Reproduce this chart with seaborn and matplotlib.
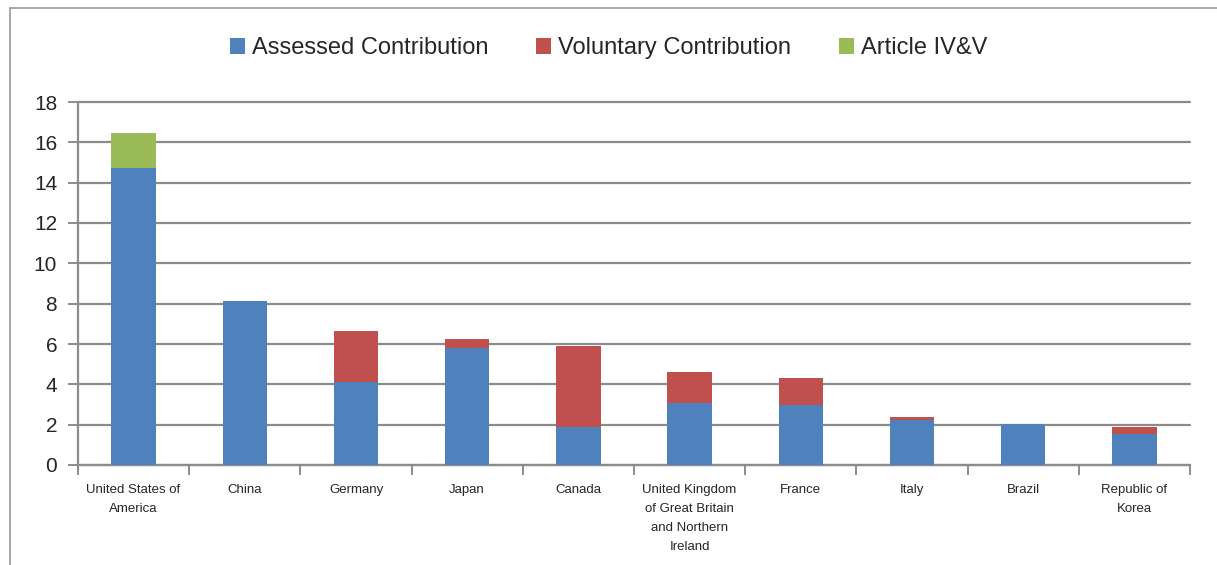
import matplotlib
matplotlib.use("Agg")
import matplotlib.pyplot as plt
from matplotlib.patches import Patch
from matplotlib.lines import Line2D
import seaborn as sns
import pandas as pd
import numpy as np

countries = ["United States of\nAmerica", "China", "Germany", "Japan", "Canada",
             "United Kingdom\nof Great Britain\nand Northern\nIreland", "France",
             "Italy", "Brazil", "Republic of\nKorea"]
assessed = [14.72, 8.12, 4.12, 5.80, 1.87, 3.08, 2.98, 2.24, 2.02, 1.54]
voluntary = [0.0, 0.0, 2.51, 0.46, 4.03, 1.54, 1.32, 0.12, 0.02, 0.33]
article = [1.74, 0.0, 0.0, 0.0, 0.0, 0.0, 0.0, 0.0, 0.0, 0.0]
series_names = ["Assessed Contribution", "Voluntary Contribution", "Article IV&V"]
colors = ["#4F81BD", "#C0504D", "#9BBB59"]

df = pd.DataFrame({"country": countries, "assessed": assessed,
                   "voluntary": voluntary, "article": article})
df["lvl1"] = df["assessed"]
df["lvl2"] = df["assessed"] + df["voluntary"]
df["lvl3"] = df["lvl2"] + df["article"]

sns.set_theme(style="white")
plt.rcParams["font.family"] = ["Liberation Sans", "DejaVu Sans"]

fig = plt.figure(figsize=(12.17, 5.65), dpi=100)
ax = fig.add_axes([78/1217, 1-465/565, (1190-78)/1217, (465-102)/565])

grid_c = "#8C8C8C"
for lvl, c in zip(["lvl3", "lvl2", "lvl1"], colors[::-1]):
    sns.barplot(data=df, x="country", y=lvl, color=c, width=0.4, ax=ax,
                saturation=1, zorder=3, edgecolor="none", linewidth=0)

ax.set_ylim(0, 18)
ax.set_xlim(-0.5, len(countries) - 0.5)
ax.set_yticks(np.arange(0, 19, 2))
ax.yaxis.grid(True, color=grid_c, linewidth=1.6, zorder=0)
for gl in ax.get_ygridlines():
    gl.set_clip_on(False)
ax.set_axisbelow(True)
ax.set_xlabel("")
ax.set_ylabel("")

for s in ["top", "right"]:
    ax.spines[s].set_visible(False)
for s in ["left", "bottom"]:
    ax.spines[s].set_color(grid_c)
    ax.spines[s].set_linewidth(1.6)

ax.tick_params(axis="y", which="major", direction="out", length=7, width=1.4,
               color=grid_c, labelsize=15, pad=8, left=True)
ax.set_xticks(range(len(countries)))
ax.set_xticklabels(countries, fontsize=9.5, linespacing=1.75)
ax.tick_params(axis="x", which="major", length=0, pad=14)
ax.set_xticks(np.arange(-0.5, len(countries), 1), minor=True)
ax.tick_params(axis="x", which="minor", direction="out", length=7, width=1.4,
               color=grid_c, bottom=True)

handles = [Patch(facecolor=c, edgecolor="none") for c in colors]
fig.legend(handles, series_names, loc="center", bbox_to_anchor=(0.5, 1-48/565),
           ncol=3, frameon=False, fontsize=17, handlelength=0.65, handleheight=0.65,
           handletextpad=0.3, columnspacing=2.0)

# outer chart border
fig.add_artist(Line2D([10/1217, 1.0], [1-8/565, 1-8/565], color="#9A9A9A", lw=1.2,
                      transform=fig.transFigure))
fig.add_artist(Line2D([10/1217, 10/1217], [0, 1-8/565], color="#9A9A9A", lw=1.2,
                      transform=fig.transFigure))

fig.savefig("out.png", dpi=100)
